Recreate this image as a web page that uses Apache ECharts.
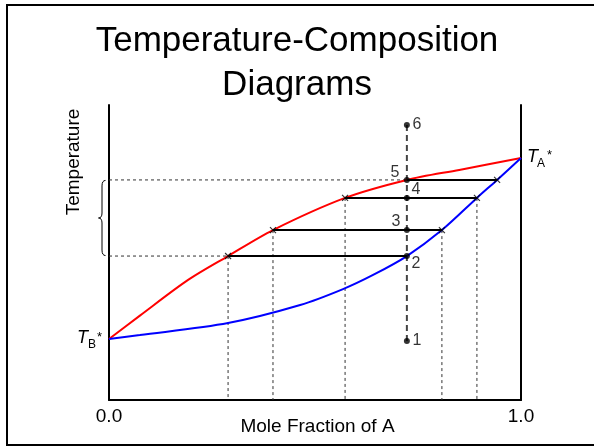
<!DOCTYPE html>
<html>
<head>
<meta charset="utf-8">
<script src="https://cdn.jsdelivr.net/npm/echarts@6/dist/echarts.min.js"></script>
<style>
html,body{margin:0;padding:0;background:#fff;}
#main{width:594px;height:447px;}
</style>
</head>
<body>
<div id="main"></div>
<script>
// ---- data (composition = mole fraction of A, temperature in arbitrary units 0-100) ----
const vaporX = [0, 0.075, 0.192, 0.289, 0.398, 0.573, 0.723, 0.85, 1.0];
const vaporT = [20.7, 28.6, 40.7, 48.8, 57.6, 68.5, 74.6, 78.0, 82.0];
const liquidX = [0, 0.075, 0.289, 0.464, 0.568, 0.641, 0.723, 0.808, 0.893, 0.942, 1.0];
const liquidT = [20.7, 22.0, 26.1, 32.2, 37.6, 42.4, 48.8, 57.6, 68.5, 74.6, 82.0];

const isoX = 0.723;
const levelT = [20.0, 48.8, 57.6, 68.5, 74.6, 93.2];
const levelLabels = ['1', '2', '3', '4', '5', '6'];

const tieT = [48.8, 57.6, 68.5, 74.6];
const tieFrom = [0.289, 0.398, 0.573, 0.723];
const tieTo = [0.723, 0.808, 0.893, 0.942];

const crossX = [0.289, 0.398, 0.808, 0.573, 0.893, 0.942];
const crossT = [48.8, 57.6, 57.6, 68.5, 68.5, 74.6];

const dropX = [0.289, 0.398, 0.573, 0.808, 0.893];
const dropT = [48.8, 57.6, 68.5, 57.6, 68.5];

const guideT = [74.6, 48.8];
const guideTo = [0.723, 0.289];

const xTicks = [0, 1];
const titleText = 'Temperature-Composition\nDiagrams';
const xName = 'Mole Fraction of A';
const yName = 'Temperature';

// ---- styles ----
const FONT = 'Liberation Sans, Arial, sans-serif';
const labelOffsets = [[10, 0], [9, 8], [-11, -8], [9, -8], [-12, -7], [10, 0]];

const chart = echarts.init(document.getElementById('main'));

const series = [];
series.push({
  type: 'line', name: 'vapor', data: vaporX.map((x, i) => [x, vaporT[i]]),
  smooth: 0.3, symbol: 'none', silent: true,
  lineStyle: { color: '#ff0000', width: 2 }, z: 4
});
series.push({
  type: 'line', name: 'liquid', data: liquidX.map((x, i) => [x, liquidT[i]]),
  smooth: 0.3, symbol: 'none', silent: true,
  lineStyle: { color: '#0000ff', width: 2 }, z: 4
});
dropX.forEach((x, i) => {
  series.push({
    type: 'line', data: [[x, dropT[i]], [x, 0]], symbol: 'none', silent: true,
    lineStyle: { color: '#333', width: 1, type: [3, 3] }, z: 1
  });
});
guideT.forEach((t, i) => {
  series.push({
    type: 'line', data: [[0, t], [guideTo[i], t]], symbol: 'none', silent: true,
    lineStyle: { color: '#333', width: 1, type: [3, 3] }, z: 1
  });
});
series.push({
  type: 'line', data: [[isoX, levelT[0]], [isoX, levelT[levelT.length - 1]]],
  symbol: 'none', silent: true,
  lineStyle: { color: '#444', width: 2, type: [6, 4] }, z: 2
});
tieT.forEach((t, i) => {
  series.push({
    type: 'line', data: [[tieFrom[i], t], [tieTo[i], t]], symbol: 'none', silent: true,
    lineStyle: { color: '#000', width: 2 }, z: 5
  });
});
series.push({
  type: 'scatter', data: crossX.map((x, i) => [x, crossT[i]]),
  symbol: 'path://M0,0L10,10M10,0L0,10', symbolSize: 6, silent: true,
  itemStyle: { color: 'rgba(0,0,0,0)', borderColor: '#000', borderWidth: 1.2 }, z: 6
});
series.push({
  type: 'scatter', silent: true, symbol: 'circle', symbolSize: 6,
  itemStyle: { color: '#000' }, z: 7,
  data: levelT.map((t, i) => ({
    value: [isoX, t],
    label: {
      show: true, formatter: levelLabels[i], position: 'inside',
      offset: labelOffsets[i], fontSize: 16, color: '#000', fontFamily: FONT
    }
  }))
});

const axisCommon = {
  type: 'value', min: 0, max: 100,
  axisLine: { show: true, onZero: false, lineStyle: { color: '#000', width: 2 } },
  axisTick: { show: false }, axisLabel: { show: false }, splitLine: { show: false }
};

chart.setOption({
  animation: false,
  backgroundColor: '#fff',
  textStyle: { fontFamily: FONT },
  title: {
    text: titleText, left: 'center', top: 19, padding: [0, 0, 0, 8],
    textStyle: { fontSize: 35, fontWeight: 'normal', color: '#000', lineHeight: 44, fontFamily: FONT }
  },
  grid: { left: 109, right: 73, top: 105, bottom: 47, containLabel: false, outerBoundsMode: 'none' },
  xAxis: {
    type: 'value', min: xTicks[0], max: xTicks[1], interval: 1,
    axisLine: { onZero: false, lineStyle: { color: '#000', width: 2 } },
    axisTick: { show: false }, splitLine: { show: false },
    axisLabel: { fontSize: 19, color: '#000', margin: 7, fontFamily: FONT, formatter: v => v.toFixed(1) },
    name: xName, nameLocation: 'middle', nameGap: 17, nameMoveOverlap: false,
    nameTextStyle: { fontSize: 19, color: '#000', fontFamily: FONT, padding: [0, 0, 0, 5] }
  },
  yAxis: [
    Object.assign({}, axisCommon, { position: 'left' }),
    Object.assign({}, axisCommon, { position: 'right' })
  ],
  series: series
});

// ---- annotations placed through the chart's own scales ----
const px = (x, y) => chart.convertToPixel({ gridIndex: 0 }, [x, y]);
const pA = px(1, vaporT[vaporT.length - 1]);
const pB = px(0, vaporT[0]);
const p5 = px(0, guideT[0]);
const p2 = px(0, guideT[1]);
const ax = p5[0];
const yTop = p5[1], yBot = p2[1], yMid = (yTop + yBot) / 2;
const bx = ax - 7, tipX = ax - 10.5, endX = ax - 3.5;

function txt(x, y, s, size, italic, align) {
  return {
    type: 'text', x: x, y: y, silent: true,
    style: {
      text: s, fontSize: size, fontFamily: FONT, fill: '#000',
      fontStyle: italic ? 'italic' : 'normal', align: align || 'left', verticalAlign: 'middle'
    }
  };
}
const braceStyle = { fill: 'none', stroke: '#000', lineWidth: 1 };
function bez(x1, y1, cx, cy, x2, y2) {
  return { type: 'bezierCurve', silent: true, shape: { x1: x1, y1: y1, cpx1: cx, cpy1: cy, x2: x2, y2: y2 }, style: braceStyle };
}
function seg(x1, y1, x2, y2) {
  return { type: 'line', silent: true, shape: { x1: x1, y1: y1, x2: x2, y2: y2 }, style: braceStyle };
}

chart.setOption({
  graphic: [
    { type: 'rect', silent: true, shape: { x: 7, y: 5, width: 600, height: 440 },
      style: { fill: 'none', stroke: '#000', lineWidth: 2 } },
    { type: 'text', silent: true, x: 73.5, y: 162, rotation: Math.PI / 2,
      style: { text: yName, fontSize: 19, fontFamily: FONT, fill: '#000', align: 'center', verticalAlign: 'middle' } },
    txt(pA[0] + 6, pA[1] - 1.5, 'T', 18, true),
    txt(pA[0] + 16, pA[1] + 6, 'A', 12, false),
    txt(pA[0] + 26, pA[1] - 3, '*', 13, false),
    txt(pB[0] - 32, pB[1] - 0.7, 'T', 18, true),
    txt(pB[0] - 21, pB[1] + 6, 'B', 12, false),
    txt(pB[0] - 12, pB[1] - 2, '*', 13, false),
    bez(endX, yTop + 0.5, bx, yTop + 0.5, bx, yTop + 6),
    seg(bx, yTop + 6, bx, yMid - 5),
    bez(bx, yMid - 5, bx, yMid, tipX, yMid),
    bez(tipX, yMid, bx, yMid, bx, yMid + 5),
    seg(bx, yMid + 5, bx, yBot - 6),
    bez(bx, yBot - 6, bx, yBot - 0.5, endX, yBot - 0.5)
  ]
});
</script>
</body>
</html>
